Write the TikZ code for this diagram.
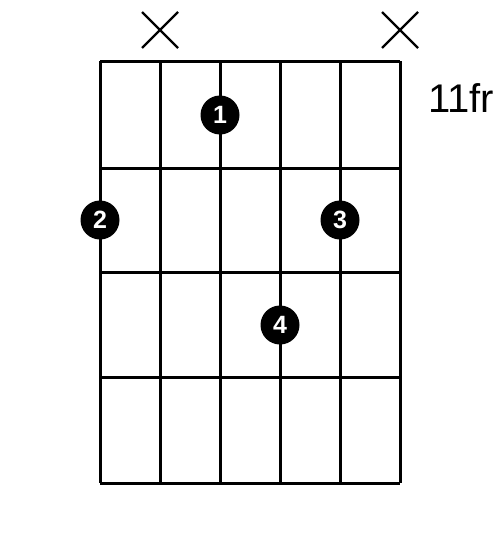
\documentclass[tikz,border=0pt]{standalone}
\usepackage{fontspec}
\setmainfont{Liberation Sans}
\begin{document}
\begin{tikzpicture}[x=1pt,y=-1pt,
  gridline/.style={line width=3pt,black},
  xmark/.style={line width=2.2pt,black},
  finger/.style={circle,fill=black,inner sep=0pt,minimum size=39pt,text=white,font=\fontsize{25}{25}\selectfont\bfseries},
  fretlabel/.style={font=\fontsize{40}{40}\selectfont,anchor=base west,inner sep=0pt}]
\useasboundingbox (0,0) rectangle (500,538);
\fill[white] (0,0) rectangle (500,538);
\foreach \x in {100,160,220,280,340,400}
  \draw[gridline] (\x,61) -- (\x,483);
\foreach \y in {61,168,272,377,483}
  \draw[gridline] (100,\y) -- (400,\y);
\foreach \x in {160,400}
  \draw[xmark] (\x-18,12) -- (\x+18,48) (\x-18,48) -- (\x+18,12);
\node[finger] (f1) at (220,115) {1};
\node[finger] (f2) at (100,220) {2};
\node[finger] (f3) at (340,220) {3};
\node[finger] (f4) at (280,325) {4};
\node[fretlabel] (fr) at (428,112) {11fr};
\end{tikzpicture}
\end{document}
